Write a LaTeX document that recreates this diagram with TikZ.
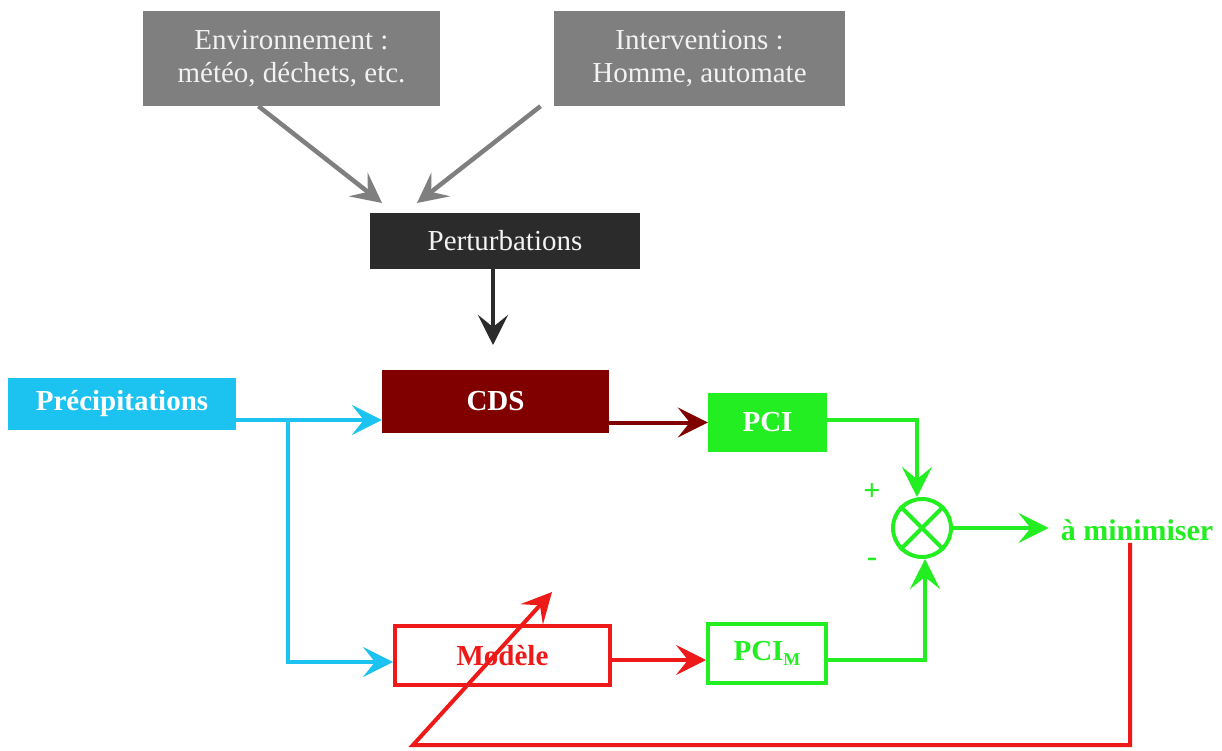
\documentclass[tikz,border=0pt]{standalone}
\usepackage{fontspec}
\setmainfont{Liberation Serif}
\usetikzlibrary{arrows.meta,calc}
\definecolor{boxgray}{HTML}{7F7F7F}
\definecolor{txtgray}{HTML}{F2F2F2}
\definecolor{pertgray}{HTML}{2B2B2B}
\definecolor{cyanc}{HTML}{1CC2F0}
\definecolor{darkred}{HTML}{800000}
\definecolor{greenc}{HTML}{22EE22}
\definecolor{redc}{HTML}{EE1A1A}
\tikzset{
  graybox/.style={fill=boxgray, text=txtgray, inner sep=0pt, align=center, font=\fontsize{29}{33}\selectfont},
  filledbox/.style={inner sep=0pt, text=white, font=\bfseries\fontsize{29}{30}\selectfont},
  tip/.style={-{Stealth[length=30pt,width=30pt,inset=12pt]}},
}
\begin{document}
\begin{tikzpicture}[x=1pt,y=-1pt]
\useasboundingbox[fill=white] (0,0) rectangle (1222,751);
% top boxes
\node[graybox, minimum width=297pt, minimum height=95pt] (env) at (291.5,58.5) {Environnement :\\météo, déchets, etc.};
\node[graybox, minimum width=291pt, minimum height=95pt] (interv) at (699.5,58.5) {Interventions :\\Homme, automate};
\node[graybox, fill=pertgray, minimum width=270pt, minimum height=56pt] (pert) at (505,241) {Perturbations};
% main line
\node[filledbox, fill=cyanc, minimum width=228pt, minimum height=52pt] (precip) at (122,404) {Précipitations};
\node[filledbox, fill=darkred, minimum width=227pt, minimum height=63pt] (cds) at (495.5,401.5) {CDS};
\node[filledbox, fill=greenc, minimum width=119pt, minimum height=59pt] (pci) at (767.5,422.5) {PCI};
\node[draw=greenc, line width=4pt, circle, minimum size=58pt, inner sep=0pt] (sum) at (922,528) {};
\draw[greenc, line width=4pt] (sum.north west) -- (sum.south east) (sum.north east) -- (sum.south west);
\node[text=greenc, font=\bfseries\fontsize{30}{30}\selectfont] (plus) at (872,492) {+};
\node[text=greenc, font=\bfseries\fontsize{30}{30}\selectfont] (minus) at (872,562) {-};
\node[text=greenc, font=\bfseries\fontsize{30}{30}\selectfont, inner sep=2pt] (mini) at (1137,530) {à minimiser};
\node[draw=redc, line width=4pt, fill=white, text=redc, font=\bfseries\fontsize{29}{30}\selectfont, minimum width=215pt, minimum height=59pt, inner sep=0pt] (model) at (502.5,655.5) {Modèle};
\node[draw=greenc, line width=4pt, text=greenc, font=\bfseries\fontsize{29}{30}\selectfont, minimum width=118pt, minimum height=59pt, inner sep=0pt] (pcim) at (767,653.5) {PCI{\fontsize{18}{18}\selectfont\raisebox{-5pt}{M}}};
% coordinates
\coordinate (envtip) at (382,203);
\coordinate (intervtip) at (417,203);
\coordinate (perttip) at (493,345);
\coordinate (split) at (288,420);
\coordinate (fbtip) at (552,592);
\coordinate (fbcorner) at (413,745);
% arrows
\draw[boxgray, line width=4.5pt, tip] ([xshift=-33pt]env.south) -- (envtip);
\draw[boxgray, line width=4.5pt, tip] ([xshift=-159pt]interv.south) -- (intervtip);
\draw[pertgray, line width=4.5pt, tip] ([xshift=-12pt]pert.south) -- (perttip);
\draw[cyanc, line width=3.5pt, tip] (precip.east |- split) -- (cds.west |- split);
\draw[cyanc, line width=3.5pt, tip] (split) |- ([yshift=-6.5pt]model.west);
\draw[darkred, line width=4pt, tip] (cds.east |- pci.west) -- (pci.west);
\draw[greenc, line width=4pt, tip] ([yshift=2.5pt]pci.east) -| ([xshift=-5pt]sum.north);
\draw[greenc, line width=4pt, tip] ([yshift=-6.5pt]pcim.east) -| ([xshift=3pt]sum.south);
\draw[greenc, line width=4pt, tip] (sum.east) -- ([xshift=-10pt]sum.east -| mini.west);
\draw[redc, line width=4pt, tip] ([yshift=-4.5pt]model.east) -- ([yshift=-4.5pt]model.east -| pcim.west);
\draw[redc, line width=4pt, tip] ([xshift=-7pt]mini.south) |- (fbcorner) -- (fbtip);
\end{tikzpicture}
\end{document}
